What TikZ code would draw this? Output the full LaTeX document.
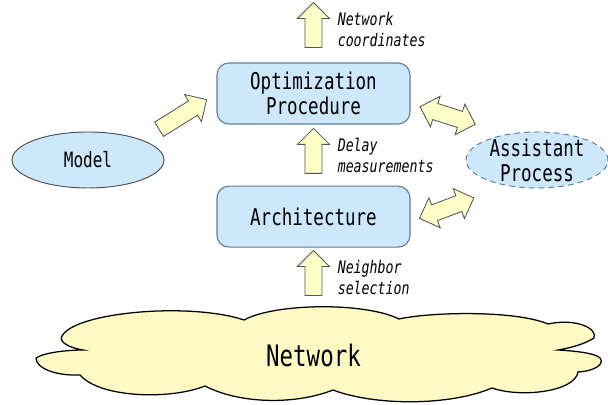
\documentclass[tikz,border=0pt]{standalone}
\usepackage{fontspec}
\usetikzlibrary{arrows.meta, positioning, shapes.geometric, shapes.arrows}
\newfontfamily\diagfont[FakeStretch=0.76]{DejaVu Sans Mono}
\definecolor{boxblue}{HTML}{CDE8FA}
\definecolor{boxedge}{HTML}{5F7F99}
\definecolor{edgegray}{HTML}{555555}
\definecolor{arrowfill}{HTML}{FFFFC8}
\definecolor{cloudfill}{HTML}{FFFAC4}

\begin{document}
\begin{tikzpicture}[
    x=0.025cm, y=-0.025cm,
    font=\diagfont\fontsize{16.4}{17.8}\selectfont,
    box/.style={draw=boxedge, fill=boxblue, rounded corners=0.3cm, line width=0.8pt,
                minimum width=4.825cm, minimum height=1.525cm, align=center},
    oval/.style={ellipse, draw=edgegray, fill=boxblue, line width=0.7pt, align=center,
                 inner xsep=0pt, inner ysep=-6pt},
    fatarrow/.style={single arrow, draw=edgegray, fill=arrowfill, line width=0.6pt,
                     allow upside down,
                     minimum height=1.125cm, inner sep=0.2cm, single arrow head extend=0.19cm},
    dblarrow/.style={double arrow, draw=edgegray, fill=arrowfill, line width=0.6pt,
                     minimum height=1.45cm, inner sep=0.2cm, double arrow head extend=0.19cm},
    lbl/.style={font=\diagfont\itshape\fontsize{12.4}{15}\selectfont, align=left, inner sep=0pt},
  ]
    \useasboundingbox (0,0) rectangle (608,405);

    % cloud outline, drawn by hand
    \draw[fill=cloudfill, line width=0.9pt]
      (83,350) .. controls (70,348) and (58,342) .. (62,336)
      .. controls (75,312) and (190,302) .. (244,320)
      .. controls (275,303) and (365,302) .. (399,319)
      .. controls (430,312) and (515,310) .. (548,324)
      .. controls (575,318) and (598,328) .. (594,338)
      .. controls (585,344) and (570,348) .. (558,350)
      .. controls (575,351) and (595,353) .. (600,358)
      .. controls (605,364) and (595,371) .. (578,372)
      .. controls (575,392) and (520,398) .. (492,388)
      .. controls (450,406) and (375,406) .. (333,390)
      .. controls (295,405) and (240,404) .. (205,386)
      .. controls (170,400) and (100,398) .. (80,375)
      .. controls (55,376) and (36,368) .. (36,358)
      .. controls (45,352) and (70,350) .. cycle;

    \node[box] (opt) at (313.5,93.5) {Optimization\\Procedure};
    \node[box, below=1.525cm of opt] (arch) {Architecture};
    \node[oval, minimum width=3.8cm, minimum height=1.4cm,
          font=\diagfont\fontsize{15}{17}\selectfont] (model) at (88,160) {Model};
    \node[oval, draw=boxedge, dash pattern=on 4pt off 3pt,
          minimum width=3.55cm, minimum height=1.4cm] (assist) at (537,160) {Assistant\\Process};
    \node[minimum width=14.1cm, minimum height=2.4cm,
          font=\diagfont\fontsize{21}{24}\selectfont] (net) at (313.5,355) {Network};
    \coordinate (top) at (313.5,-4);

    % vertical flow with labels
    \path (opt) -- (top) node[midway, sloped, fatarrow] (up1) {}
      node[midway, lbl, right=0.6cm] {Network\\coordinates};
    \path (arch) -- (opt) node[midway, sloped, fatarrow] (up2) {}
      node[midway, lbl, right=0.6cm] {Delay\\measurements};
    \path (net) -- (arch) node[midway, sloped, fatarrow] (up3) {}
      node[midway, lbl, right=0.6cm] {Neighbor\\selection};

    % side arrows
    \path (model.north east) -- (opt.west) node[midway, sloped, fatarrow, minimum height=1.4cm] (in1) {};
    \path (opt.-6) -- (assist.140) node[pos=0.387, sloped, dblarrow] (io1) {};
    \path (arch.-3) -- (assist.220) node[pos=0.377, sloped, dblarrow] (io2) {};
  \end{tikzpicture}
\end{document}
